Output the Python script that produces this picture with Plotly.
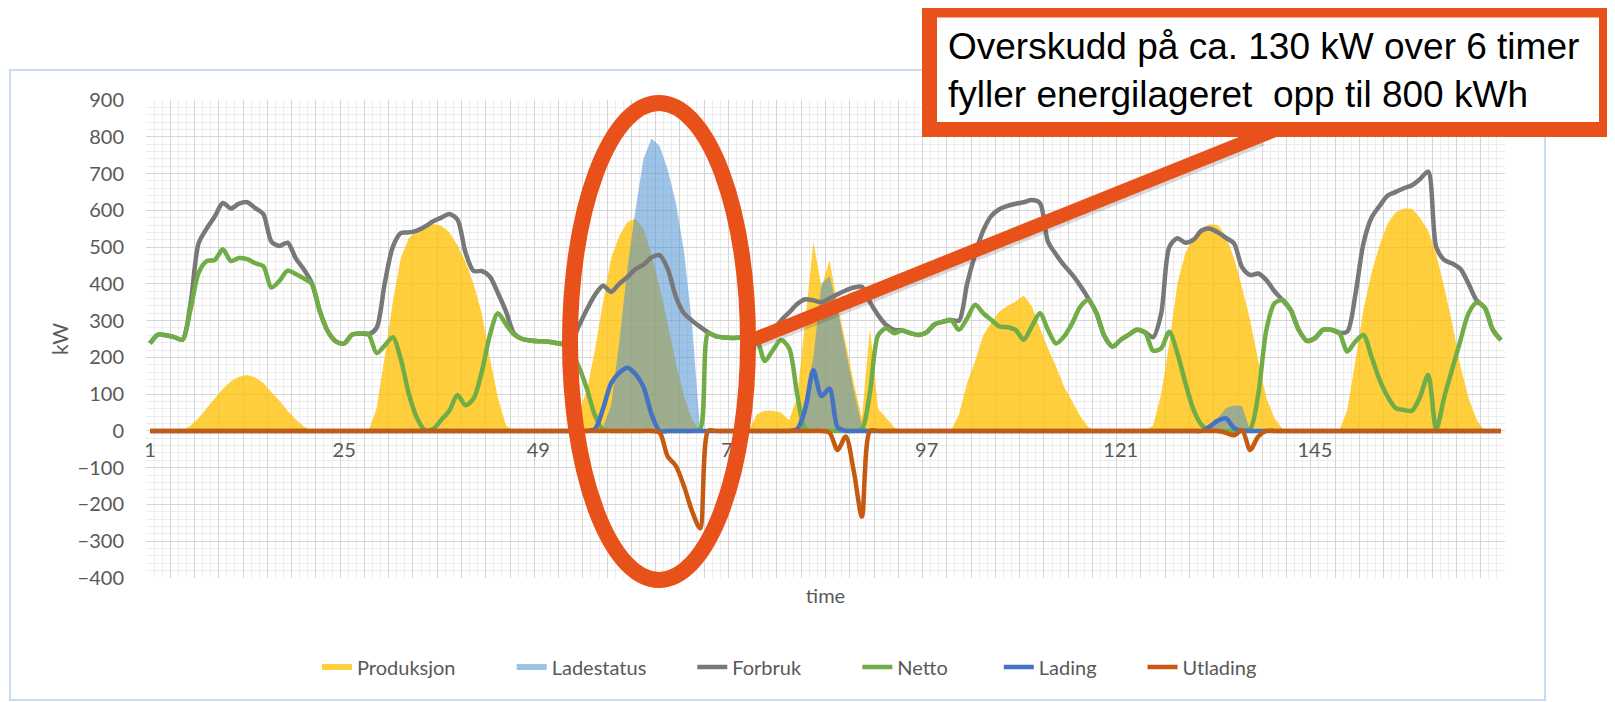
import plotly.graph_objects as go

hours = list(range(1, 169))

produksjon = [
    0, 0, 0, 0, 0, 15, 35, 62, 88, 115, 135, 147,
    152, 145, 130, 105, 82, 55, 32, 12, 0, 0, 0, 0,
    0, 0, 0, 0, 60, 200, 350, 470, 525, 545, 558, 563,
    558, 540, 505, 460, 400, 320, 200, 90, 15, 0, 0, 0,
    0, 0, 0, 0, 10, 50, 110, 220, 350, 470, 530, 568,
    578, 550, 480, 390, 290, 185, 95, 30, 0, 0, 0, 0,
    0, 0, 0, 45, 55, 55, 50, 30, 90, 300, 515, 390,
    465, 340, 240, 130, 35, 279, 60, 35, 10, 0, 0, 0,
    0, 0, 0, 0, 45, 130, 190, 260, 295, 325, 340, 352,
    368, 340, 280, 225, 175, 120, 80, 40, 10, 0, 0, 0,
    0, 0, 0, 0, 15, 100, 240, 400, 485, 525, 550, 562,
    560, 530, 470, 390, 300, 190, 90, 35, 5, 0, 0, 0,
    0, 0, 0, 0, 57, 190, 330, 430, 505, 565, 595, 605,
    604, 580, 545, 480, 390, 290, 175, 90, 30, 0, 0, 0,
]

ladestatus = [
    0, 0, 0, 0, 0, 0, 0, 0, 0, 0, 0, 0,
    0, 0, 0, 0, 0, 0, 0, 0, 0, 0, 0, 0,
    0, 0, 0, 0, 0, 0, 0, 0, 0, 0, 0, 0,
    0, 0, 0, 0, 0, 0, 0, 0, 0, 0, 0, 0,
    0, 0, 0, 0, 0, 0, 0, 0, 10, 70, 240, 440,
    600, 740, 795, 775, 710, 620, 490, 290, 0, 0, 0, 0,
    0, 0, 0, 0, 0, 0, 0, 0, 10, 90, 200, 400,
    420, 330, 220, 110, 15, 0, 0, 0, 0, 0, 0, 0,
    0, 0, 0, 0, 0, 0, 0, 0, 0, 0, 0, 0,
    0, 0, 0, 0, 0, 0, 0, 0, 0, 0, 0, 0,
    0, 0, 0, 0, 0, 0, 0, 0, 0, 0, 0, 15,
    35, 62, 70, 68, 0, 0, 0, 0, 0, 0, 0, 0,
    0, 0, 0, 0, 0, 0, 0, 0, 0, 0, 0, 0,
    0, 0, 0, 0, 0, 0, 0, 0, 0, 0, 0, 0,
]

forbruk = [
    238, 262, 260, 255, 248, 345, 510, 550, 583, 620, 605, 618,
    622, 606, 590, 515, 503, 512, 470, 440, 402, 325, 270, 243,
    238, 262, 265, 263, 280, 400, 500, 538, 540, 545, 556, 570,
    580, 590, 575, 485, 435, 435, 420, 375, 325, 265, 250, 246,
    244, 243, 240, 237, 240, 285, 330, 370, 395, 378, 400, 418,
    440, 452, 472, 478, 440, 365, 320, 300, 283, 268, 257, 254,
    253, 254, 253, 250, 255, 270, 300, 322, 345, 358, 355, 350,
    360, 372, 382, 390, 392, 350, 315, 288, 275, 273, 266, 261,
    268, 290, 297, 302, 300, 400, 480, 545, 585, 603, 612, 618,
    622, 628, 620, 515, 480, 450, 425, 395, 360, 320, 257, 229,
    248, 262, 275, 268, 255, 320, 500, 524, 512, 520, 545, 550,
    540, 525, 510, 445, 424, 428, 410, 380, 356, 329, 275, 245,
    252, 275, 275, 267, 270, 370, 510, 580, 612, 640, 650, 660,
    668, 685, 705, 500, 465, 455, 440, 400, 355, 335, 275, 247,
]

netto = [
    238, 262, 260, 255, 248, 330, 430, 462, 465, 494, 462, 470,
    467, 456, 448, 390, 408, 436, 427, 415, 400, 325, 270, 243,
    238, 262, 265, 263, 212, 232, 255, 195, 100, 35, 2, 5,
    30, 55, 98, 70, 88, 160, 260, 320, 290, 262, 250, 246,
    244, 243, 240, 235, 218, 175, 115, 42, 3, 0, 0, 0,
    0, 0, 0, 0, 0, 0, 0, 0, 5, 265, 257, 254,
    253, 254, 253, 248, 190, 220, 247, 225, 100, 5, 0, 0,
    0, 0, 0, 0, 5, 105, 260, 279, 266, 273, 266, 261,
    268, 290, 297, 302, 275, 306, 343, 320, 302, 284, 282, 275,
    248, 284, 320, 275, 238, 257, 293, 338, 356, 320, 257, 229,
    248, 262, 275, 268, 218, 225, 270, 211, 130, 57, 16, 0,
    0, 0, 0, 0, 5, 100, 275, 347, 356, 329, 275, 245,
    252, 275, 275, 267, 216, 243, 261, 202, 139, 93, 62, 57,
    55, 93, 152, 5, 93, 170, 247, 320, 349, 335, 275, 247,
]

lading = [
    0, 0, 0, 0, 0, 0, 0, 0, 0, 0, 0, 0,
    0, 0, 0, 0, 0, 0, 0, 0, 0, 0, 0, 0,
    0, 0, 0, 0, 0, 0, 0, 0, 0, 0, 0, 0,
    0, 0, 0, 0, 0, 0, 0, 0, 0, 0, 0, 0,
    0, 0, 0, 0, 0, 0, 0, 5, 60, 130, 158, 172,
    155, 120, 45, 0, 0, 0, 0, 0, 0, 0, 0, 0,
    0, 0, 0, 0, 0, 0, 0, 0, 5, 60, 165, 95,
    115, 10, 0, 0, 0, 0, 0, 0, 0, 0, 0, 0,
    0, 0, 0, 0, 0, 0, 0, 0, 0, 0, 0, 0,
    0, 0, 0, 0, 0, 0, 0, 0, 0, 0, 0, 0,
    0, 0, 0, 0, 0, 0, 0, 0, 0, 0, 0, 12,
    28, 34, 8, 0, 0, 0, 0, 0, 0, 0, 0, 0,
    0, 0, 0, 0, 0, 0, 0, 0, 0, 0, 0, 0,
    0, 0, 0, 0, 0, 0, 0, 0, 0, 0, 0, 0,
]

utlading = [
    0, 0, 0, 0, 0, 0, 0, 0, 0, 0, 0, 0,
    0, 0, 0, 0, 0, 0, 0, 0, 0, 0, 0, 0,
    0, 0, 0, 0, 0, 0, 0, 0, 0, 0, 0, 0,
    0, 0, 0, 0, 0, 0, 0, 0, 0, 0, 0, 0,
    0, 0, 0, 0, 0, 0, 0, 0, 0, 0, 0, 0,
    0, 0, 0, -5, -70, -95, -150, -218, -265, 0, 0, 0,
    0, 0, 0, 0, 0, 0, 0, 0, 0, 0, 0, 0,
    -5, -52, -15, -110, -233, 0, 0, 0, 0, 0, 0, 0,
    0, 0, 0, 0, 0, 0, 0, 0, 0, 0, 0, 0,
    0, 0, 0, 0, 0, 0, 0, 0, 0, 0, 0, 0,
    0, 0, 0, 0, 0, 0, 0, 0, 0, 0, 0, 0,
    0, -5, -12, 2, -52, -15, 0, 0, 0, 0, 0, 0,
    0, 0, 0, 0, 0, 0, 0, 0, 0, 0, 0, 0,
    0, 0, 0, 0, 0, 0, 0, 0, 0, 0, 0, 0,
]

series_names = ["Produksjon", "Ladestatus", "Forbruk", "Netto", "Lading", "Utlading"]
legend_pad = [10, 8, 10, 9, 8, 0]     # trailing spacing per legend entry
tick_vals = [1, 25, 49, 73, 97, 121, 145]
tick_text = ["1", "25", "49", "73", "97", "121", "145"]

callout_lines = ["Overskudd på ca. 130 kW over 6 timer",
                 "fyller energilageret\u00a0 opp til 800 kWh"]

# ---- geometry: viewport pixels; the page body adds an 8 px offset ----
OFF = 8
W, H = 1615 - OFF, 702 - OFF
L, R, T, B = 146, 1505, 100, 578          # plot area in viewport pixels
PW, PH = R - L, B - T
Y_MIN, Y_MAX = -400, 900


def xp(px):
    return (px - L) / PW


def yp(py):
    return (B - py) / PH


def legend_name(i):
    n = legend_pad[i]
    return series_names[i] + ("\u00a0" * n + "\u200b" if n else "")


TXT = "#595959"
FONT = "Lato, Carlito, Calibri, sans-serif"
ORANGE = "#E8511A"

fig = go.Figure()

fig.add_trace(go.Scatter(x=hours, y=produksjon, name=legend_name(0), mode="none",
                         fill="tozeroy", fillcolor="rgba(255,192,0,0.76)"))
fig.add_trace(go.Scatter(x=hours, y=ladestatus, name=legend_name(1), mode="none",
                         fill="tozeroy", fillcolor="rgba(74,144,209,0.54)"))
line_kw = dict(shape="spline", smoothing=0.8, width=4.5)
fig.add_trace(go.Scatter(x=hours, y=forbruk, name=legend_name(2), mode="lines",
                         line=dict(color="#787878", **line_kw)))
fig.add_trace(go.Scatter(x=hours, y=netto, name=legend_name(3), mode="lines",
                         line=dict(color="#70AD47", **line_kw)))
fig.add_trace(go.Scatter(x=hours, y=lading, name=legend_name(4), mode="lines",
                         line=dict(color="#4472C4", **line_kw)))
fig.add_trace(go.Scatter(x=hours, y=utlading, name=legend_name(5), mode="lines",
                         xaxis="x2", line=dict(color="#C55A11", **line_kw)))

zero_pos = (0 - Y_MIN) / (Y_MAX - Y_MIN)

fig.update_layout(
    width=W, height=H,
    margin=dict(l=L - OFF, r=W - (R - OFF), t=T - OFF, b=H - (B - OFF), pad=0, autoexpand=False),
    paper_bgcolor="white", plot_bgcolor="white",
    font=dict(family=FONT, color=TXT, size=20),
    showlegend=True,
    legend=dict(orientation="h", x=xp(317), xanchor="left", y=yp(667),
                yanchor="middle", font=dict(family=FONT, size=20, color=TXT),
                bgcolor="rgba(0,0,0,0)", tracegroupgap=0),
    xaxis=dict(range=[0.5, 168.5], tickmode="linear", tick0=0.5, dtick=3,
               showgrid=True, gridcolor="#D6D6D6", gridwidth=1,
               minor=dict(tick0=0.5, dtick=1, showgrid=True, gridcolor="#EDEDED", gridwidth=1),
               showticklabels=False, ticks="", zeroline=False, showline=False, automargin=False,
               title=dict(text="time", standoff=10, font=dict(family=FONT, size=20, color=TXT))),
    xaxis2=dict(overlaying="x", anchor="free", position=zero_pos, side="bottom",
                range=[0.5, 168.5], tickmode="array", tickvals=tick_vals, ticktext=tick_text,
                showgrid=False, zeroline=False, showline=False, automargin=False,
                ticks="outside", ticklen=1, tickcolor="rgba(0,0,0,0)",
                tickfont=dict(family=FONT, size=20, color=TXT)),
    yaxis=dict(range=[Y_MIN, Y_MAX], tickmode="linear", tick0=0, dtick=100,
               showgrid=True, gridcolor="#D6D6D6", gridwidth=1,
               minor=dict(dtick=20, showgrid=True, gridcolor="#EDEDED", gridwidth=1),
               zeroline=False, showline=False, automargin=False,
               ticks="outside", ticklen=17, tickcolor="rgba(0,0,0,0)",
               tickfont=dict(family=FONT, size=20, color=TXT),
               title=dict(text="kW", standoff=3, font=dict(family=FONT, size=21, color=TXT))),
)

shapes = [
    # chart frame
    dict(type="rect", xref="paper", yref="paper", layer="below",
         x0=xp(10), x1=xp(1545), y0=yp(700), y1=yp(70),
         line=dict(color="#C6DAF0", width=2), fillcolor="rgba(0,0,0,0)"),
    # ellipse highlight
    dict(type="circle", xref="paper", yref="paper", layer="above",
         x0=xp(570), x1=xp(748), y0=yp(580), y1=yp(103),
         line=dict(color=ORANGE, width=16)),
    # connector shadow
    dict(type="line", xref="paper", yref="paper", layer="above",
         x0=xp(751), y0=yp(344), x1=xp(1262), y1=yp(139),
         line=dict(color="rgba(60,60,60,0.18)", width=14)),
    # connector
    dict(type="line", xref="paper", yref="paper", layer="above",
         x0=xp(750), y0=yp(341), x1=xp(1275), y1=yp(130),
         line=dict(color=ORANGE, width=14)),
    # callout box
    dict(type="rect", xref="paper", yref="paper", layer="above",
         x0=xp(929.5), x1=xp(1606.5), y0=yp(129.5), y1=yp(10),
         line=dict(color=ORANGE, width=15), fillcolor="white"),
]
fig.update_layout(shapes=shapes)

fig.add_annotation(xref="paper", yref="paper", x=xp(946), y=yp(70),
                   xanchor="left", yanchor="middle", align="left", showarrow=False,
                   text="<br>".join(callout_lines),
                   font=dict(family="Liberation Sans, Arial, sans-serif", size=37, color="black"))

fig.write_html("out.html")
